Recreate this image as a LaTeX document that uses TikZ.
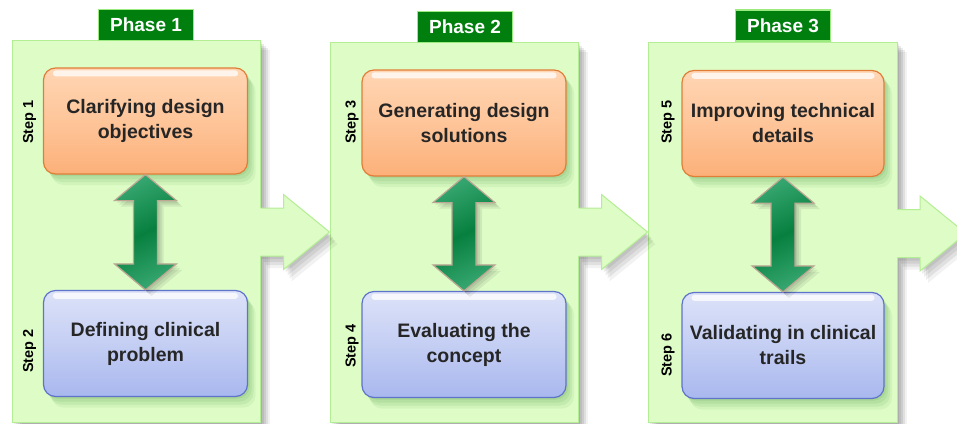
\documentclass[tikz,border=0pt]{standalone}
\usepackage{fontspec}
\setmainfont{Liberation Sans}
\usetikzlibrary{shadows,calc}
\definecolor{panelfill}{HTML}{DDFCC6}
\definecolor{panelborder}{HTML}{B4EE94}
\definecolor{phasefill}{HTML}{007F0E}
\definecolor{phaseborder}{HTML}{9BEA80}
\definecolor{orangetop}{HTML}{FFD6B4}
\definecolor{orangebot}{HTML}{FCB079}
\definecolor{orangeline}{HTML}{E07E38}
\definecolor{bluetop}{HTML}{DCE2F8}
\definecolor{bluebot}{HTML}{A8B7EE}
\definecolor{blueline}{HTML}{6073CA}
\definecolor{arrlight}{HTML}{34A56E}
\definecolor{arrdark}{HTML}{07803F}
\definecolor{arrline}{HTML}{BFA593}
\definecolor{txt}{HTML}{262626}
\tikzset{
  softshadow/.style={
    general shadow={fill=black, opacity=0.08, shadow xshift=2pt, shadow yshift=-2pt},
    general shadow={fill=black, opacity=0.08, shadow xshift=4pt, shadow yshift=-4pt},
    general shadow={fill=black, opacity=0.08, shadow xshift=6pt, shadow yshift=-6pt},
    general shadow={fill=black, opacity=0.08, shadow xshift=8pt, shadow yshift=-8pt},
    general shadow={fill=black, opacity=0.05, shadow xshift=10pt, shadow yshift=-10pt}},
  panel/.style={draw=panelborder, fill=panelfill, line width=1pt, inner sep=0pt, softshadow},
  phase/.style={draw=phaseborder, fill=phasefill, line width=1.5pt, text=white,
    font=\fontsize{19}{22}\selectfont\bfseries, minimum width=95pt, minimum height=31pt, inner sep=0pt},
  boxbase/.style={rounded corners=12pt, line width=1.2pt, minimum width=204pt, minimum height=106pt,
    align=center, text=txt, font=\fontsize{19.5}{25}\selectfont\bfseries, inner sep=0pt,
    general shadow={fill=black!60!green, opacity=0.07, shadow xshift=2pt, shadow yshift=-2pt},
    general shadow={fill=black!60!green, opacity=0.07, shadow xshift=4pt, shadow yshift=-5pt},
    general shadow={fill=black!60!green, opacity=0.07, shadow xshift=6pt, shadow yshift=-8pt},
    general shadow={fill=black!60!green, opacity=0.05, shadow xshift=8pt, shadow yshift=-11pt}},
  obox/.style={boxbase, draw=orangeline, top color=orangetop, bottom color=orangebot, middle color=orangetop!55!orangebot},
  bbox/.style={boxbase, draw=blueline, top color=bluetop, bottom color=bluebot, middle color=bluetop!55!bluebot},
  steplab/.style={rotate=90, font=\fontsize{14.5}{16}\selectfont\bfseries, text=black, inner sep=0pt},
  dblarrow/.style={draw=arrline, line width=1.2pt, left color=arrlight, right color=arrlight,
    middle color=arrdark, shading angle=25, line join=miter,
    general shadow={fill=black, opacity=0.07, shadow xshift=2pt, shadow yshift=-2pt},
    general shadow={fill=black, opacity=0.07, shadow xshift=4pt, shadow yshift=-4pt},
    general shadow={fill=black, opacity=0.07, shadow xshift=6pt, shadow yshift=-6pt}},
  bigarrow/.style={fill=panelfill,
    general shadow={fill=black, opacity=0.07, shadow xshift=2pt, shadow yshift=-3pt},
    general shadow={fill=black, opacity=0.07, shadow xshift=4pt, shadow yshift=-6pt},
    general shadow={fill=black, opacity=0.07, shadow xshift=6pt, shadow yshift=-9pt},
    general shadow={fill=black, opacity=0.05, shadow xshift=8pt, shadow yshift=-12pt}},
  bigarrowline/.style={draw=panelborder, line width=1pt},
  gloss/.style={fill=white, fill opacity=0.75}
}
\newcommand\dblarr[2]{%
  \path[dblarrow] let \p1=(#1.south), \p2=(#2.north) in
    (\x1,\y1) -- (\x1+31pt,\y1-26pt) -- (\x1+12pt,\y1-26pt) -- (\x1+12pt,\y2+26pt)
    -- (\x1+31pt,\y2+26pt) -- (\x1,\y2) -- (\x1-31pt,\y2+26pt) -- (\x1-12pt,\y2+26pt)
    -- (\x1-12pt,\y1-26pt) -- (\x1-31pt,\y1-26pt) -- cycle;}
\newcommand\bigarr[2]{%
  \fill[bigarrow] let \p1=(#1), \p2=(#2) in
    (\x1-1pt,\y2+24pt) -- (\x2-46pt,\y2+24pt) -- (\x2-46pt,\y2+37.5pt) -- (\x2,\y2)
    -- (\x2-46pt,\y2-37.5pt) -- (\x2-46pt,\y2-24pt) -- (\x1-1pt,\y2-24pt) -- cycle;
  \draw[bigarrowline] let \p1=(#1), \p2=(#2) in
    (\x1,\y2+24pt) -- (\x2-46pt,\y2+24pt) -- (\x2-46pt,\y2+37.5pt) -- (\x2,\y2)
    -- (\x2-46pt,\y2-37.5pt) -- (\x2-46pt,\y2-24pt) -- (\x1,\y2-24pt);}
\newcommand\glossy[1]{%
  \fill[gloss, rounded corners=3pt] ($(#1.north west)+(10pt,-3pt)$) rectangle ($(#1.north east)+(-10pt,-9pt)$);}
\begin{document}
\begin{tikzpicture}[x=1pt,y=-1pt]
\useasboundingbox (0,0) rectangle (957,423);
\fill[white] (0,0) rectangle (957,423);
% panels
\node[panel, minimum width=248pt, minimum height=382pt] (p1) at (136,231) {};
\node[panel, minimum width=248pt, minimum height=380pt] (p2) at (454,232) {};
\node[panel, minimum width=249pt, minimum height=380pt] (p3) at (772.5,232) {};
\coordinate (tip3) at (966,233.5);
% phase-to-phase arrows
\bigarr{p1.east}{p2.west}
\bigarr{p2.east}{p3.west}
\bigarr{p3.east}{tip3}
% phase labels
\node[phase] (ph1) at (146,25) {Phase 1};
\node[phase] (ph2) at (465,27) {Phase 2};
\node[phase] (ph3) at (783,25.5) {Phase 3};
% boxes
\node[obox] (o1) at (145.5,121) {Clarifying design\\objectives};
\node[bbox] (b1) at (145.5,343.5) {Defining clinical\\problem};
\node[obox] (o2) at (464,123) {Generating design\\solutions};
\node[bbox] (b2) at (464,344.5) {Evaluating the\\concept};
\node[obox, minimum width=202pt] (o3) at (783,123.5) {Improving technical\\details};
\node[bbox, minimum width=202pt] (b3) at (783,345.5) {Validating in clinical\\trails};
\glossy{o1}\glossy{b1}\glossy{o2}\glossy{b2}\glossy{o3}\glossy{b3}
% double arrows
\dblarr{o1}{b1}
\dblarr{o2}{b2}
\dblarr{o3}{b3}
% step labels
\node[steplab] (s1) at (29.5,122) {Step 1};
\node[steplab] (s2) at (29.5,351) {Step 2};
\node[steplab] (s3) at (352,122) {Step 3};
\node[steplab] (s4) at (352,346) {Step 4};
\node[steplab] (s5) at (668,122) {Step 5};
\node[steplab] (s6) at (668,355) {Step 6};
\end{tikzpicture}
\end{document}
